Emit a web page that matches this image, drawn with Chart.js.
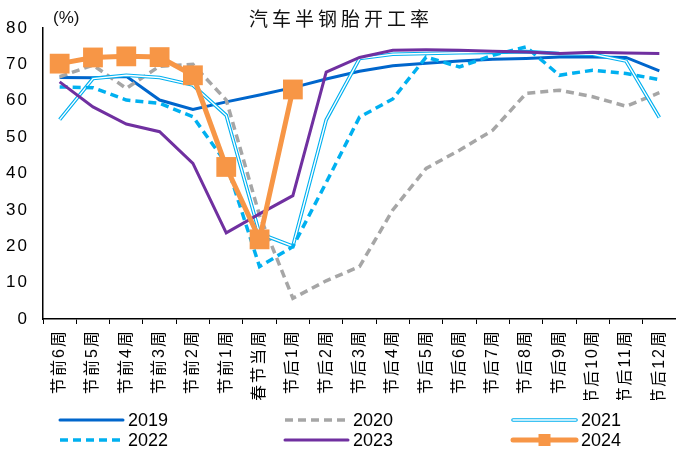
<!DOCTYPE html>
<html>
<head>
<meta charset="utf-8">
<script src="https://cdn.jsdelivr.net/npm/chart.js@4.4.1/dist/chart.umd.min.js"></script>
<style>
  body { margin: 0; background: #fff; }
  #wrap { width: 676px; height: 450px; position: relative; }
</style>
</head>
<body>
<div id="wrap"><canvas id="chart-bangang"></canvas></div>
<script>
// 汽车半钢胎开工率, weeks around Spring Festival
const weeks = ['节前6周', '节前5周', '节前4周', '节前3周', '节前2周', '节前1周', '春节当周',
    '节后1周', '节后2周', '节后3周', '节后4周', '节后5周', '节后6周', '节后7周',
    '节后8周', '节后9周', '节后10周', '节后11周', '节后12周'];

const rate2019 = [66.4, 66.3, 66.7, 60.2, 57.6, 59.7, 61.6, 63.6, 66.0, 68.1, 69.6, 70.3, 70.9, 71.4, 71.6, 72.0, 72.0, 71.9, 68.2];
const rate2020 = [66.6, 69.8, 63.4, 69.5, 70.0, 60.2, 28.5, 5.7, 10.5, 14.4, 30.0, 41.4, 46.4, 51.9, 62.0, 62.9, 61.1, 58.5, 62.2];
const rate2021 = [54.8, 66.1, 67.0, 66.4, 64.3, 56.0, 23.5, 20.0, 54.7, 71.6, 72.8, 73.0, 73.2, 73.3, 73.5, 73.0, 72.8, 70.9, 55.4];
const rate2022 = [63.8, 63.6, 60.2, 59.3, 55.6, 42.8, 14.4, 19.9, 37.5, 55.5, 60.5, 72.0, 69.3, 72.5, 74.8, 67.0, 68.4, 67.5, 65.8];
const rate2023 = [65.2, 58.3, 53.6, 51.5, 42.8, 23.7, 28.9, 33.9, 67.9, 71.9, 73.9, 74.0, 73.9, 73.6, 73.4, 73.0, 73.3, 73.1, 73.0];
const rate2024 = [70.2, 71.9, 72.2, 72.0, 67.0, 41.8, 21.9, 63.1, null, null, null, null, null, null, null, null, null, null, null];

const yTicks = [0, 10, 20, 30, 40, 50, 60, 70, 80];
const chartTitle = '汽车半钢胎开工率';
const unitLabel = '(%)';

const FONT_NUM = '"Liberation Sans", Arial, "Noto Sans CJK SC", sans-serif';

function lineSet(label, data, color, width, extra) {
    return Object.assign({
        label: label,
        data: data,
        borderColor: color,
        backgroundColor: color,
        borderWidth: width,
        pointRadius: 0,
        pointHoverRadius: 0,
        tension: 0,
        fill: false,
        borderCapStyle: 'butt',
        borderJoinStyle: 'miter'
    }, extra || {});
}

const datasets = [
    lineSet('2019', rate2019, '#0066CC', 3, { order: 7 }),
    lineSet('2020', rate2020, '#A6A6A6', 3.5, { order: 6, borderDash: [8, 5] }),
    lineSet('2021', rate2021, '#00B0F0', 3.6, { order: 5, doubleLine: true }),
    // white core of the double line for 2021
    lineSet('', rate2021, '#FFFFFF', 1.4, { order: 4, helper: true }),
    lineSet('2022', rate2022, '#00B0F0', 3.5, { order: 3, borderDash: [8, 5] }),
    lineSet('2023', rate2023, '#7030A0', 3, { order: 2 }),
    lineSet('2024', rate2024, '#F79646', 5, {
        order: 1, pointStyle: 'rect', pointRadius: 14, pointHoverRadius: 14,
        pointBackgroundColor: '#F79646', pointBorderWidth: 0
    })
];

// wider spacing for the axis text, switched off again before the lines
const tickSpacing = {
    id: 'tickSpacing',
    beforeDraw(chart) { chart.ctx.letterSpacing = '2px'; },
    beforeDatasetsDraw(chart) { chart.ctx.letterSpacing = '0px'; }
};

// title, unit and the three-column legend drawn straight on the canvas
const extras = {
    id: 'extras',
    afterDraw(chart) {
        const ctx = chart.ctx;
        ctx.save();
        ctx.fillStyle = '#111';
        ctx.textBaseline = 'middle';

        ctx.font = '19px "Noto Sans CJK SC"';
        ctx.letterSpacing = '4px';
        ctx.textAlign = 'center';
        ctx.fillText(chartTitle, 341, 19);
        ctx.letterSpacing = '0px';

        ctx.font = '17px ' + FONT_NUM;
        ctx.textAlign = 'left';
        ctx.fillText(unitLabel, 53, 18);

        const cols = [60, 285, 513];
        const rows = [420, 440];
        const items = chart.data.datasets.filter(d => !d.helper);
        items.forEach((ds, i) => {
            const x = cols[i % 3];
            const y = rows[Math.floor(i / 3)];
            drawSample(ctx, ds, x, x + 63, y);
            ctx.fillStyle = '#000';
            ctx.font = '18px ' + FONT_NUM;
            ctx.textAlign = 'left';
            ctx.fillText(ds.label, x + 68, y + 1);
        });
        ctx.restore();
    }
};

function drawSample(ctx, ds, x1, x2, y) {
    ctx.save();
    const dashed = ds.borderDash && ds.borderDash.length;
    ctx.setLineDash(dashed ? ds.borderDash : []);
    ctx.lineCap = dashed ? 'butt' : 'round';
    ctx.strokeStyle = ds.borderColor;
    ctx.lineWidth = ds.borderWidth;
    ctx.beginPath();
    ctx.moveTo(x1, y);
    ctx.lineTo(x2, y);
    ctx.stroke();
    if (ds.doubleLine) {
        ctx.strokeStyle = '#FFFFFF';
        ctx.lineWidth = 1.4;
        ctx.beginPath();
        ctx.moveTo(x1, y);
        ctx.lineTo(x2, y);
        ctx.stroke();
    }
    if (ds.pointStyle === 'rect') {
        ctx.fillStyle = ds.borderColor;
        ctx.fillRect((x1 + x2) / 2 - 6, y - 6, 12, 12);
    }
    ctx.restore();
}

new Chart(document.getElementById('chart-bangang'), {
    type: 'line',
    data: { labels: weeks, datasets: datasets },
    options: {
        responsive: true,
        maintainAspectRatio: false,
        animation: false,
        layout: { autoPadding: false, padding: { top: 28, right: 0, bottom: 50, left: 0 } },
        plugins: {
            legend: { display: false },
            title: { display: false },
            tooltip: { enabled: false }
        },
        scales: {
            x: {
                offset: true,
                grid: { display: true, offset: true, drawOnChartArea: false, drawTicks: true, tickLength: 5, color: '#000', lineWidth: 1 },
                border: { display: true, color: '#000', width: 1.5 },
                ticks: {
                    autoSkip: false, minRotation: 90, maxRotation: 90, padding: 5,
                    color: '#000', font: { family: FONT_NUM, size: 16 }
                },
                afterFit(scale) {
                    scale.height = 81;
                    scale.paddingLeft = 0;
                    scale.paddingRight = 0;
                }
            },
            y: {
                min: 0,
                max: 80,
                afterBuildTicks(scale) {
                    scale.ticks = yTicks.map(v => ({ value: v }));
                },
                grid: { display: false, drawTicks: false },
                border: { display: true, color: '#000', width: 1.5 },
                ticks: { padding: 14, color: '#000', font: { family: FONT_NUM, size: 17 } },
                afterFit(scale) {
                    scale.width = 43;
                }
            }
        }
    },
    plugins: [tickSpacing, extras]
});
</script>
</body>
</html>
